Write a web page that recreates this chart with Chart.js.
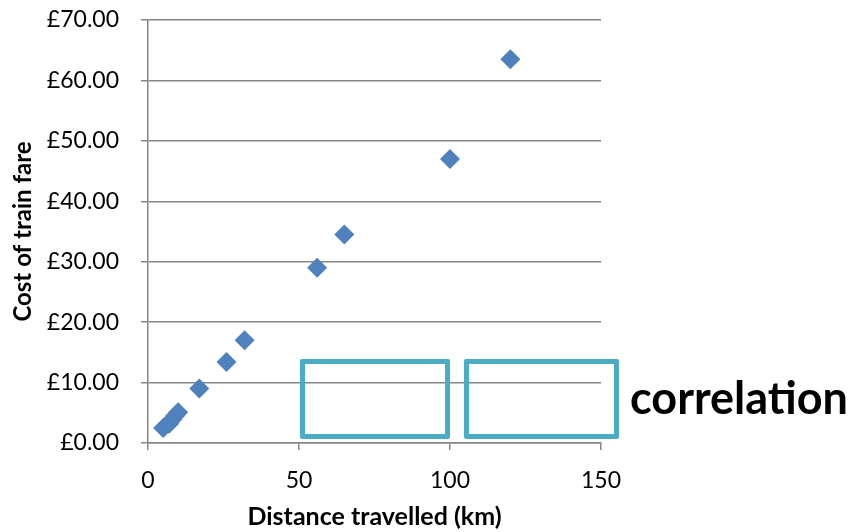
<!DOCTYPE html>
<html>
<head>
<meta charset="utf-8">
<script src="https://cdn.jsdelivr.net/npm/chart.js@4"></script>
<style>
  html, body { margin: 0; padding: 0; background: #fff; }
  #wrap { position: relative; width: 850px; height: 532px; }
  .box { position: absolute; border: 5px solid #4bacc6; border-radius: 2px; box-sizing: border-box; }
  #word { position: absolute; left: 630px; top: 375px; font-family: Lato, sans-serif; font-weight: bold; font-size: 45px; line-height: 1; color: #000; }
</style>
</head>
<body>
<div id="wrap">
  <canvas id="fareChart" width="850" height="532"></canvas>
  <div class="box" style="left:300px; top:359px; width:150px; height:80px"></div>
  <div class="box" style="left:464px; top:359px; width:155px; height:80px"></div>
  <div id="word">correlation</div>
</div>
<script>
const distances = [5, 7, 8, 9, 10, 17, 26, 32, 56, 65, 100, 120];
const fares = [2.5, 3.2, 3.9, 4.5, 5.1, 9, 13.4, 17, 29, 34.5, 47, 63.5];
const xTicks = [0, 50, 100, 150];
const yTicks = [0, 10, 20, 30, 40, 50, 60, 70];

const axisGrey = '#868686';
const font = { family: 'Lato, sans-serif', size: 23 };

const ctx = document.getElementById('fareChart').getContext('2d');
const chart = new Chart(ctx, {
  type: 'scatter',
  data: {
    datasets: [{
      data: distances.map((d, i) => ({ x: d, y: fares[i] })),
      pointStyle: 'rectRot',
      pointRadius: 10,
      pointBackgroundColor: '#4f81bd',
      pointBorderColor: '#4f81bd',
      pointBorderWidth: 0
    }]
  },
  options: {
    responsive: false,
    animation: false,
    layout: { padding: { top: 20, right: 249, bottom: 0, left: 0 } },
    plugins: { legend: { display: false }, tooltip: { enabled: false } },
    scales: {
      x: {
        type: 'linear', min: 0, max: 150,
        afterBuildTicks: s => { s.ticks = xTicks.map(v => ({ value: v })); },
        afterFit: s => { s.height = 89; },
        grid: { drawOnChartArea: false, drawTicks: true, tickLength: 7, color: axisGrey, lineWidth: 1.5 },
        border: { color: axisGrey, width: 1.5 },
        ticks: { color: '#000', font: font, padding: 17, maxRotation: 0 },
        title: { display: true, text: 'Distance travelled (km)', color: '#000', font: { family: 'Lato, sans-serif', size: 25, weight: 'bold' }, padding: { top: 0, bottom: 0 } }
      },
      y: {
        type: 'linear', min: 0, max: 70,
        afterBuildTicks: s => { s.ticks = yTicks.map(v => ({ value: v })); },
        afterFit: s => { s.width = 148; s.paddingTop = 0; s.paddingBottom = 0; },
        grid: { drawTicks: true, tickLength: 7, color: axisGrey, lineWidth: 1.5 },
        border: { color: axisGrey, width: 1.5 },
        ticks: { color: '#000', font: font, padding: 22, callback: v => '£' + v.toFixed(2) },
        title: { display: true, text: 'Cost of train fare', color: '#000', font: { family: 'Lato, sans-serif', size: 24, weight: 'bold' }, padding: { top: 9, bottom: 0 } }
      }
    }
  }
});
</script>
</body>
</html>
